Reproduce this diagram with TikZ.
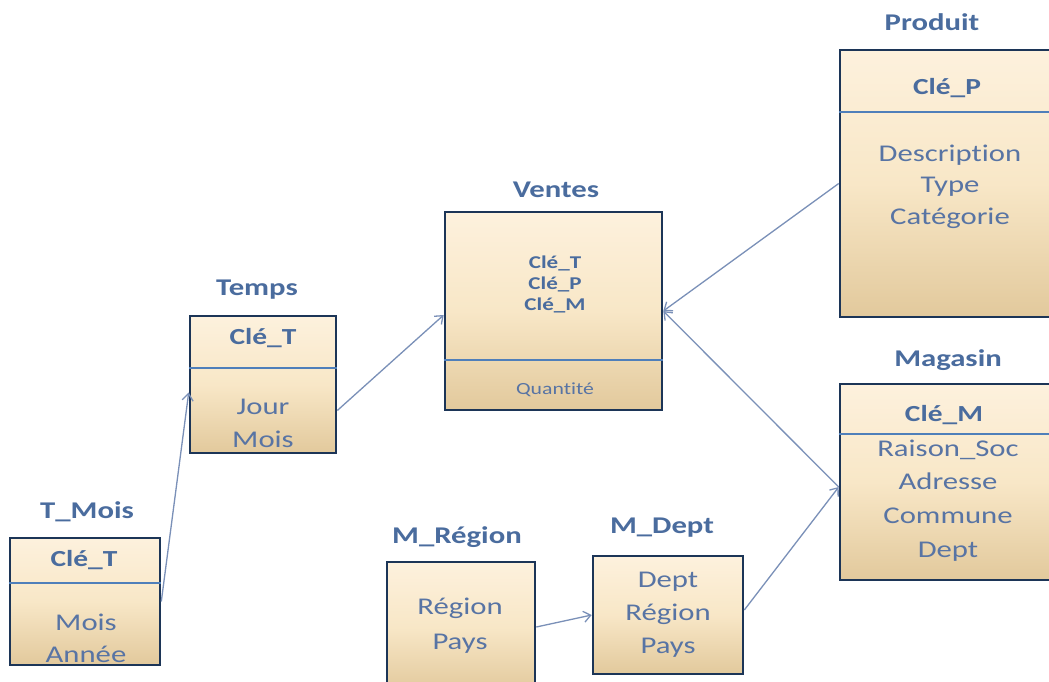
\documentclass[tikz,border=0pt]{standalone}
\usepackage{fontspec}
\setmainfont{Carlito}[FakeStretch=1.28,Ligatures={NoCommon,NoContextual}]
\usetikzlibrary{arrows.meta,calc}
\definecolor{boxtop}{HTML}{FDF1DD}
\definecolor{boxmid}{HTML}{F8E7C7}
\definecolor{boxbot}{HTML}{E2C99C}
\definecolor{boxedge}{HTML}{1C3557}
\definecolor{divider}{HTML}{4F7FBA}
\definecolor{txt}{HTML}{5874A4}
\definecolor{ttl}{HTML}{4A6C9E}
\definecolor{conn}{HTML}{7A90B8}
\tikzset{
  table/.style={draw=boxedge, line width=2.6pt, top color=boxtop, bottom color=boxbot, middle color=boxmid, inner sep=0pt},
  title/.style={text=ttl, font=\bfseries\fontsize{24}{28}\selectfont, inner sep=0pt},
  keyhead/.style={text=ttl, font=\bfseries\fontsize{23}{28}\selectfont, inner sep=0pt},
  body/.style={text=txt, font=\fontsize{24}{33}\selectfont, align=center, inner sep=0pt},
  smallkeys/.style={text=ttl, font=\bfseries\fontsize{18}{21}\selectfont, align=center, inner sep=0pt},
  smallbody/.style={text=txt, font=\fontsize{17}{20}\selectfont, inner sep=0pt},
  div/.style={draw=divider, line width=2pt},
  link/.style={draw=conn, line width=1.3pt, -{Straight Barb[length=7pt,width=11pt]}},
}
\begin{document}
\begin{tikzpicture}[x=1pt,y=-1pt]
\clip (0,0) rectangle (1049,682);
\fill[white] (0,0) rectangle (1049,682);

% Ventes
\node[table, minimum width=217pt, minimum height=198pt] (ventes) at (553.5,311) {};
\draw[div] (ventes.west |- 0,360) -- (ventes.east |- 0,360);
\node[title] (tventes) at (556,190) {Ventes};
\node[smallkeys] (kventes) at (555,284) {Clé\_T\\Clé\_P\\Clé\_M};
\node[smallbody] (qventes) at (555,390) {Quant\kern0pt ité};

% Produit
\node[table, minimum width=218pt, minimum height=267pt] (produit) at (949,183.5) {};
\draw[div] (produit.west |- 0,112) -- (produit.east |- 0,112);
\node[title] (tproduit) at (932,22) {Produit};
\node[keyhead] (kproduit) at (947,88) {Clé\_P};
\node[body, font=\fontsize{24}{31.5}\selectfont] (bproduit) at (950,186.5) {Description\\Type\\Catégorie};

% Magasin
\node[table, minimum width=218pt, minimum height=196pt] (magasin) at (949,482) {};
\draw[div] (magasin.west |- 0,434) -- (magasin.east |- 0,434);
\node[title] (tmagasin) at (948,360) {Magasin};
\node[keyhead] (kmagasin) at (944,415) {Clé\_M};
\node[body, font=\fontsize{24}{33.7}\selectfont] (bmagasin) at (948,500.5) {Raison\_Soc\\Adresse\\Commune\\Dept};

% Temps
\node[table, minimum width=146pt, minimum height=137pt] (temps) at (263,384.5) {};
\draw[div] (temps.west |- 0,368) -- (temps.east |- 0,368);
\node[title] (ttemps) at (257,290) {Temps};
\node[keyhead] (ktemps) at (263,338) {Clé\_T};
\node[body] (btemps) at (263,423.5) {Jour\\Mois};

% T_Mois
\node[table, minimum width=150pt, minimum height=127pt] (tmois) at (85,601.5) {};
\draw[div] (tmois.west |- 0,583) -- (tmois.east |- 0,583);
\node[title] (ttmois) at (87,512) {T\_Mois};
\node[keyhead] (ktmois) at (84,560) {Clé\_T};
\node[body, font=\fontsize{24}{32}\selectfont] (btmois) at (86,638) {Mois\\Année};

% M_Region
\node[table, minimum width=148pt, minimum height=130pt] (mregion) at (461,627) {};
\node[title] (tmregion) at (457,537) {M\_Région};
\node[body, font=\fontsize{24}{35}\selectfont] (bmregion) at (460,625.5) {Région\\Pays};

% M_Dept
\node[table, minimum width=150pt, minimum height=118pt] (mdept) at (668,615) {};
\node[title] (tmdept) at (662,528) {M\_Dept};
\node[body] (bmdept) at (668,615) {Dept\\Région\\Pays};

% connectors
\draw[link] (tmois.east) -- ([yshift=-8pt]temps.west);
\draw[link] ([yshift=-26pt]temps.east) -- ([yshift=-4pt]ventes.west);
\draw[link] (produit.west) -- (ventes.east);
\draw[link] ([yshift=-5pt]magasin.west) -- (ventes.east);
\draw[link] (mregion.east) -- (mdept.west);
\draw[link] ([yshift=5pt]mdept.east) -- ([yshift=-5pt]magasin.west);
\end{tikzpicture}
\end{document}
